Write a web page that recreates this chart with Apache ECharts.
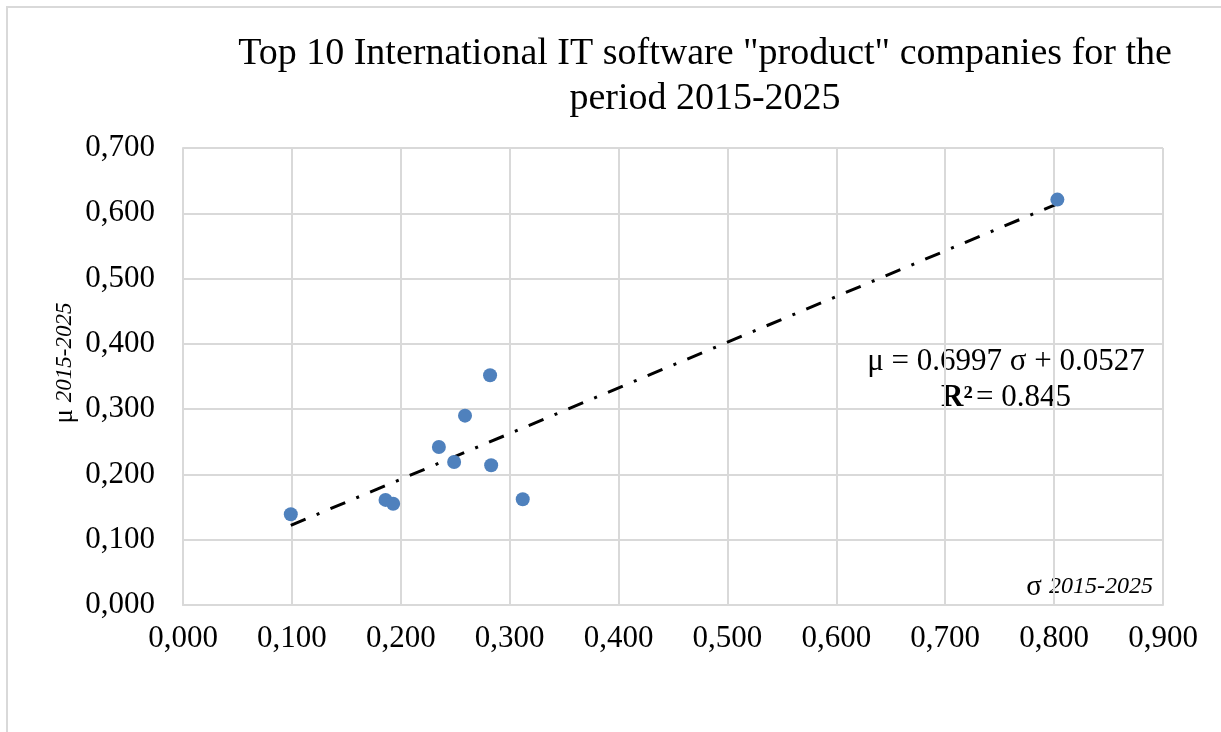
<!DOCTYPE html>
<html>
<head>
<meta charset="utf-8">
<script src="https://cdn.jsdelivr.net/npm/echarts@6/dist/echarts.min.js"></script>
<style>
  html, body { margin: 0; padding: 0; background: #fff; }
  #chart { width: 1221px; height: 732px; }
</style>
</head>
<body>
<div id="chart"></div>
<script>
// sigma (x) and mu (y) for the ten companies
var sigmaValues = [0.099, 0.186, 0.193, 0.235, 0.249, 0.259, 0.282, 0.283, 0.312, 0.803];
var muValues    = [0.139, 0.161, 0.155, 0.242, 0.219, 0.290, 0.352, 0.214, 0.162, 0.621];
// trendline as given on the chart
var slope = 0.6997;
var intercept = 0.0527;
var rSquared = '0.845';

var xTicks = { min: 0, max: 0.9, step: 0.1 };
var yTicks = { min: 0, max: 0.7, step: 0.1 };

var FONT = '"Liberation Serif", "Times New Roman", serif';

var points = [];
for (var i = 0; i < sigmaValues.length; i++) {
  points.push([sigmaValues[i], muValues[i]]);
}
var xMin = Math.min.apply(null, sigmaValues);
var xMax = Math.max.apply(null, sigmaValues);
var trend = [[xMin, slope * xMin + intercept], [xMax, slope * xMax + intercept]];

function fmt(v) {
  return v.toFixed(3).replace('.', ',');
}

var myChart = echarts.init(document.getElementById('chart'));
myChart.setOption({
  animation: false,
  title: {
    text: 'Top 10 International IT software "product" companies for the\nperiod 2015-2025',
    left: 700,
    top: 27,
    textAlign: 'center',
    textStyle: {
      fontFamily: FONT,
      fontWeight: 'normal',
      fontSize: 38,
      lineHeight: 45,
      color: '#000'
    }
  },
  grid: {
    left: 183,
    right: 58,
    top: 148,
    bottom: 127
  },
  xAxis: {
    type: 'value',
    min: xTicks.min,
    max: xTicks.max,
    interval: xTicks.step,
    axisLine: { show: true, lineStyle: { color: '#d9d9d9', width: 2 } },
    axisTick: { show: false },
    axisLabel: {
      formatter: fmt,
      margin: 18,
      fontFamily: FONT,
      fontSize: 31,
      color: '#000'
    },
    splitLine: { lineStyle: { color: '#d9d9d9', width: 2 } }
  },
  yAxis: {
    type: 'value',
    min: yTicks.min,
    max: yTicks.max,
    interval: yTicks.step,
    axisLine: { show: true, lineStyle: { color: '#d9d9d9', width: 2 } },
    axisTick: { show: false },
    axisLabel: {
      formatter: fmt,
      margin: 28,
      fontFamily: FONT,
      fontSize: 31,
      color: '#000'
    },
    splitLine: { lineStyle: { color: '#d9d9d9', width: 2 } }
  },
  series: [
    {
      name: 'trend',
      type: 'line',
      data: trend,
      symbol: 'none',
      silent: true,
      z: 2,
      lineStyle: {
        color: '#000',
        width: 3,
        type: [16, 12, 3, 12],
        cap: 'butt'
      }
    },
    {
      name: 'companies',
      type: 'scatter',
      data: points,
      symbolSize: 14,
      z: 3,
      itemStyle: { color: '#4f81bd', opacity: 1 }
    }
  ],
  graphic: [
    {
      // chart area border
      type: 'rect',
      shape: { x: 7, y: 7, width: 1400, height: 900 },
      style: { fill: 'none', stroke: '#d9d9d9', lineWidth: 2 },
      z: -10
    },
    {
      // y axis name
      type: 'text',
      x: 65,
      y: 363,
      rotation: Math.PI / 2,
      style: {
        text: '{a|μ }{b|2015-2025}',
        align: 'center',
        verticalAlign: 'middle',
        rich: {
          a: { fontFamily: FONT, fontSize: 27, fill: '#000' },
          b: { fontFamily: FONT, fontSize: 23, fontStyle: 'italic', fill: '#000' }
        }
      }
    },
    {
      // x axis name
      type: 'text',
      x: 1153,
      y: 587,
      style: {
        text: '{a|σ }{b|2015-2025}',
        align: 'right',
        verticalAlign: 'middle',
        rich: {
          a: { fontFamily: FONT, fontSize: 29, fill: '#000' },
          b: { fontFamily: FONT, fontSize: 24, fontStyle: 'italic', fill: '#000' }
        }
      }
    },
    {
      // regression equation
      type: 'text',
      x: 1006,
      y: 362,
      style: {
        text: 'μ = ' + slope + ' σ + ' + intercept,
        align: 'center',
        verticalAlign: 'middle',
        fontFamily: FONT,
        fontSize: 31,
        fill: '#000'
      }
    },
    {
      type: 'text',
      x: 1006,
      y: 398,
      style: {
        text: '{b|R²} {n|= ' + rSquared + '}',
        align: 'center',
        verticalAlign: 'middle',
        rich: {
          b: { fontFamily: FONT, fontSize: 31, fontWeight: 'bold', fill: '#000' },
          n: { fontFamily: FONT, fontSize: 31, fill: '#000' }
        }
      }
    }
  ]
});
</script>
</body>
</html>
